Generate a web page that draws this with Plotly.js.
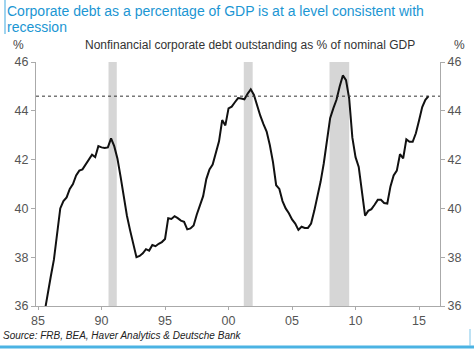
<!DOCTYPE html>
<html>
<head>
<meta charset="utf-8">
<script src="https://cdn.plot.ly/plotly-3.0.1.min.js"></script>
<style>
html,body{margin:0;padding:0;background:#fff;}
#chart{width:474px;height:350px;}
</style>
</head>
<body>
<div id="chart"></div>
<script>
// Quarterly observations (decimal year)
const quarters = [
 1985.50,1985.75,1986.00,1986.25,1986.50,1986.75,1987.00,1987.25,1987.50,1987.75,
 1988.00,1988.25,1988.50,1988.75,1989.00,1989.25,1989.50,1989.75,1990.00,1990.25,
 1990.50,1990.75,1991.00,1991.25,1991.50,1991.75,1992.00,1992.25,1992.50,1992.75,
 1993.00,1993.25,1993.50,1993.75,1994.00,1994.25,1994.50,1994.75,1995.00,1995.25,
 1995.50,1995.75,1996.00,1996.25,1996.50,1996.75,1997.00,1997.25,1997.50,1997.75,
 1998.00,1998.25,1998.50,1998.75,1999.00,1999.25,1999.50,1999.75,2000.00,2000.25,
 2000.50,2000.75,2001.00,2001.25,2001.50,2001.75,2002.00,2002.25,2002.50,2002.75,
 2003.00,2003.25,2003.50,2003.75,2004.00,2004.25,2004.50,2004.75,2005.00,2005.25,
 2005.50,2005.75,2006.00,2006.25,2006.50,2006.75,2007.00,2007.25,2007.50,2007.75,
 2008.00,2008.25,2008.50,2008.75,2009.00,2009.25,2009.50,2009.75,2010.00,2010.25,
 2010.50,2010.75,2011.00,2011.25,2011.50,2011.75,2012.00,2012.25,2012.50,2012.75,
 2013.00,2013.25,2013.50,2013.75,2014.00,2014.25,2014.50,2014.75,2015.00,2015.25,
 2015.50,2015.75
];
const debtPctGDP = [
 35.7,36.5,37.2,37.9,38.9,40.0,40.3,40.45,40.8,41.0,
 41.35,41.55,41.6,41.8,41.95,42.2,42.1,42.55,42.5,42.48,
 42.5,42.87,42.55,42.05,41.3,40.4,39.7,39.1,38.6,38.0,
 38.05,38.16,38.33,38.27,38.5,38.45,38.55,38.62,38.75,39.6,
 39.57,39.68,39.6,39.5,39.45,39.14,39.18,39.3,39.75,40.1,
 40.5,41.2,41.6,41.8,42.3,42.75,43.62,43.4,44.1,44.17,
 44.35,44.52,44.5,44.47,44.7,44.88,44.65,44.2,43.8,43.45,
 43.15,42.6,41.9,40.95,40.8,40.3,40.0,39.8,39.55,39.38,
 39.12,39.25,39.2,39.2,39.38,39.9,40.45,41.1,41.85,42.7,
 43.7,44.1,44.45,45.0,45.45,45.26,44.5,42.9,42.1,41.7,
 40.75,39.7,39.9,39.97,40.15,40.35,40.35,40.22,40.2,40.9,
 41.35,41.55,42.22,42.05,42.83,42.73,42.73,43.08,43.6,44.15,
 44.45,44.6
];
const recessionStart = [1990.55, 2001.2, 2007.95];
const recessionEnd   = [1991.2, 2001.9, 2009.5];
const thresholdLevel = [44.6];
const xTickVals = [1985,1990,1995,2000,2005,2010,2015];
const xTickText = ['85','90','95','00','05','10','15'];
const yTickVals = [36,38,40,42,44,46];

const FONT = 'Liberation Sans, Arial, sans-serif';
const TICKC = '#555';

// pixel -> paper helpers (plot area: x 36..440, y 62..306)
const px = v => (v - 36) / 404;
const py = v => (306 - v) / 244;

const shapes = [];
for (let i = 0; i < recessionStart.length; i++) {
  shapes.push({type:'rect', xref:'x', yref:'paper', x0:recessionStart[i], x1:recessionEnd[i],
    y0:0, y1:1, fillcolor:'#d6d6d6', line:{width:0}, layer:'below'});
}
thresholdLevel.forEach(v => shapes.push({type:'line', xref:'paper', yref:'y', x0:0, x1:1, y0:v, y1:v,
  line:{color:'#333', width:1, dash:'dot'}}));
// decorative frame lines
shapes.push({type:'line', xref:'paper', yref:'paper', x0:px(5), x1:px(5), y0:py(0), y1:py(34),
  line:{color:'#7fc6ea', width:1.5}});
shapes.push({type:'line', xref:'paper', yref:'paper', x0:px(0), x1:px(474), y0:py(347), y1:py(347),
  line:{color:'#4bb3e3', width:3}});
shapes.push({type:'line', xref:'paper', yref:'paper', x0:px(470), x1:px(470), y0:py(329), y1:py(346),
  line:{color:'#7fc6ea', width:1}});

const data = [
  {x: quarters, y: debtPctGDP, type:'scatter', mode:'lines',
   line:{color:'#111', width:2}, hoverinfo:'skip', showlegend:false},
  {x: quarters, y: debtPctGDP, type:'scatter', mode:'lines', yaxis:'y2',
   line:{color:'rgba(0,0,0,0)', width:0}, hoverinfo:'skip', showlegend:false}
];

const layout = {
  width:474, height:350,
  margin:{l:36, r:34, t:62, b:44, pad:0},
  paper_bgcolor:'#fff', plot_bgcolor:'#fff',
  font:{family:FONT, color:TICKC, size:12},
  showlegend:false,
  xaxis:{range:[1984.84, 2016.65], tickmode:'array', tickvals:xTickVals, ticktext:xTickText,
    showgrid:false, zeroline:false, showline:true, linecolor:'#aaa', linewidth:1,
    ticks:'outside', ticklen:3, tickcolor:'#aaa', tickfont:{size:12.5, color:TICKC, family:FONT}},
  yaxis:{range:[36,46], tickmode:'array', tickvals:yTickVals, showgrid:false, zeroline:false,
    showline:true, linecolor:'#aaa', linewidth:1, ticks:'outside', ticklen:4, tickcolor:'#aaa',
    tickfont:{size:12.5, color:TICKC, family:FONT}},
  yaxis2:{range:[36,46], overlaying:'y', side:'right', tickmode:'array', tickvals:yTickVals,
    showgrid:false, zeroline:false, showline:true, linecolor:'#aaa', linewidth:1,
    ticks:'outside', ticklen:4, tickcolor:'#aaa', tickfont:{size:12.5, color:TICKC, family:FONT}},
  shapes: shapes,
  annotations:[
    {text:'Corporate debt as a percentage of GDP is at a level consistent with',
     xref:'paper', yref:'paper', x:px(5), y:py(11), xanchor:'left', yanchor:'middle', align:'left',
     showarrow:false, font:{family:FONT, size:14, color:'#1b96d3'}},
    {text:'recession',
     xref:'paper', yref:'paper', x:px(5), y:py(27), xanchor:'left', yanchor:'middle', align:'left',
     showarrow:false, font:{family:FONT, size:14, color:'#1b96d3'}},
    {text:'Nonfinancial corporate debt outstanding as % of nominal GDP', xref:'paper', yref:'paper',
     x:px(250), y:py(45), xanchor:'center', yanchor:'middle', showarrow:false,
     font:{family:FONT, size:12, color:'#333'}},
    {text:'%', xref:'paper', yref:'paper', x:px(18), y:py(45), xanchor:'center', yanchor:'middle',
     showarrow:false, font:{family:FONT, size:12, color:'#444'}},
    {text:'%', xref:'paper', yref:'paper', x:px(459), y:py(45), xanchor:'center', yanchor:'middle',
     showarrow:false, font:{family:FONT, size:12, color:'#444'}},
    {text:'<i>Source: FRB, BEA, Haver Analytics &amp; Deutsche Bank</i>', xref:'paper', yref:'paper',
     x:px(1), y:py(335), xanchor:'left', yanchor:'middle', showarrow:false,
     font:{family:FONT, size:10, color:'#222'}}
  ]
};

Plotly.newPlot('chart', data, layout, {staticPlot:true, displayModeBar:false});
</script>
</body>
</html>
